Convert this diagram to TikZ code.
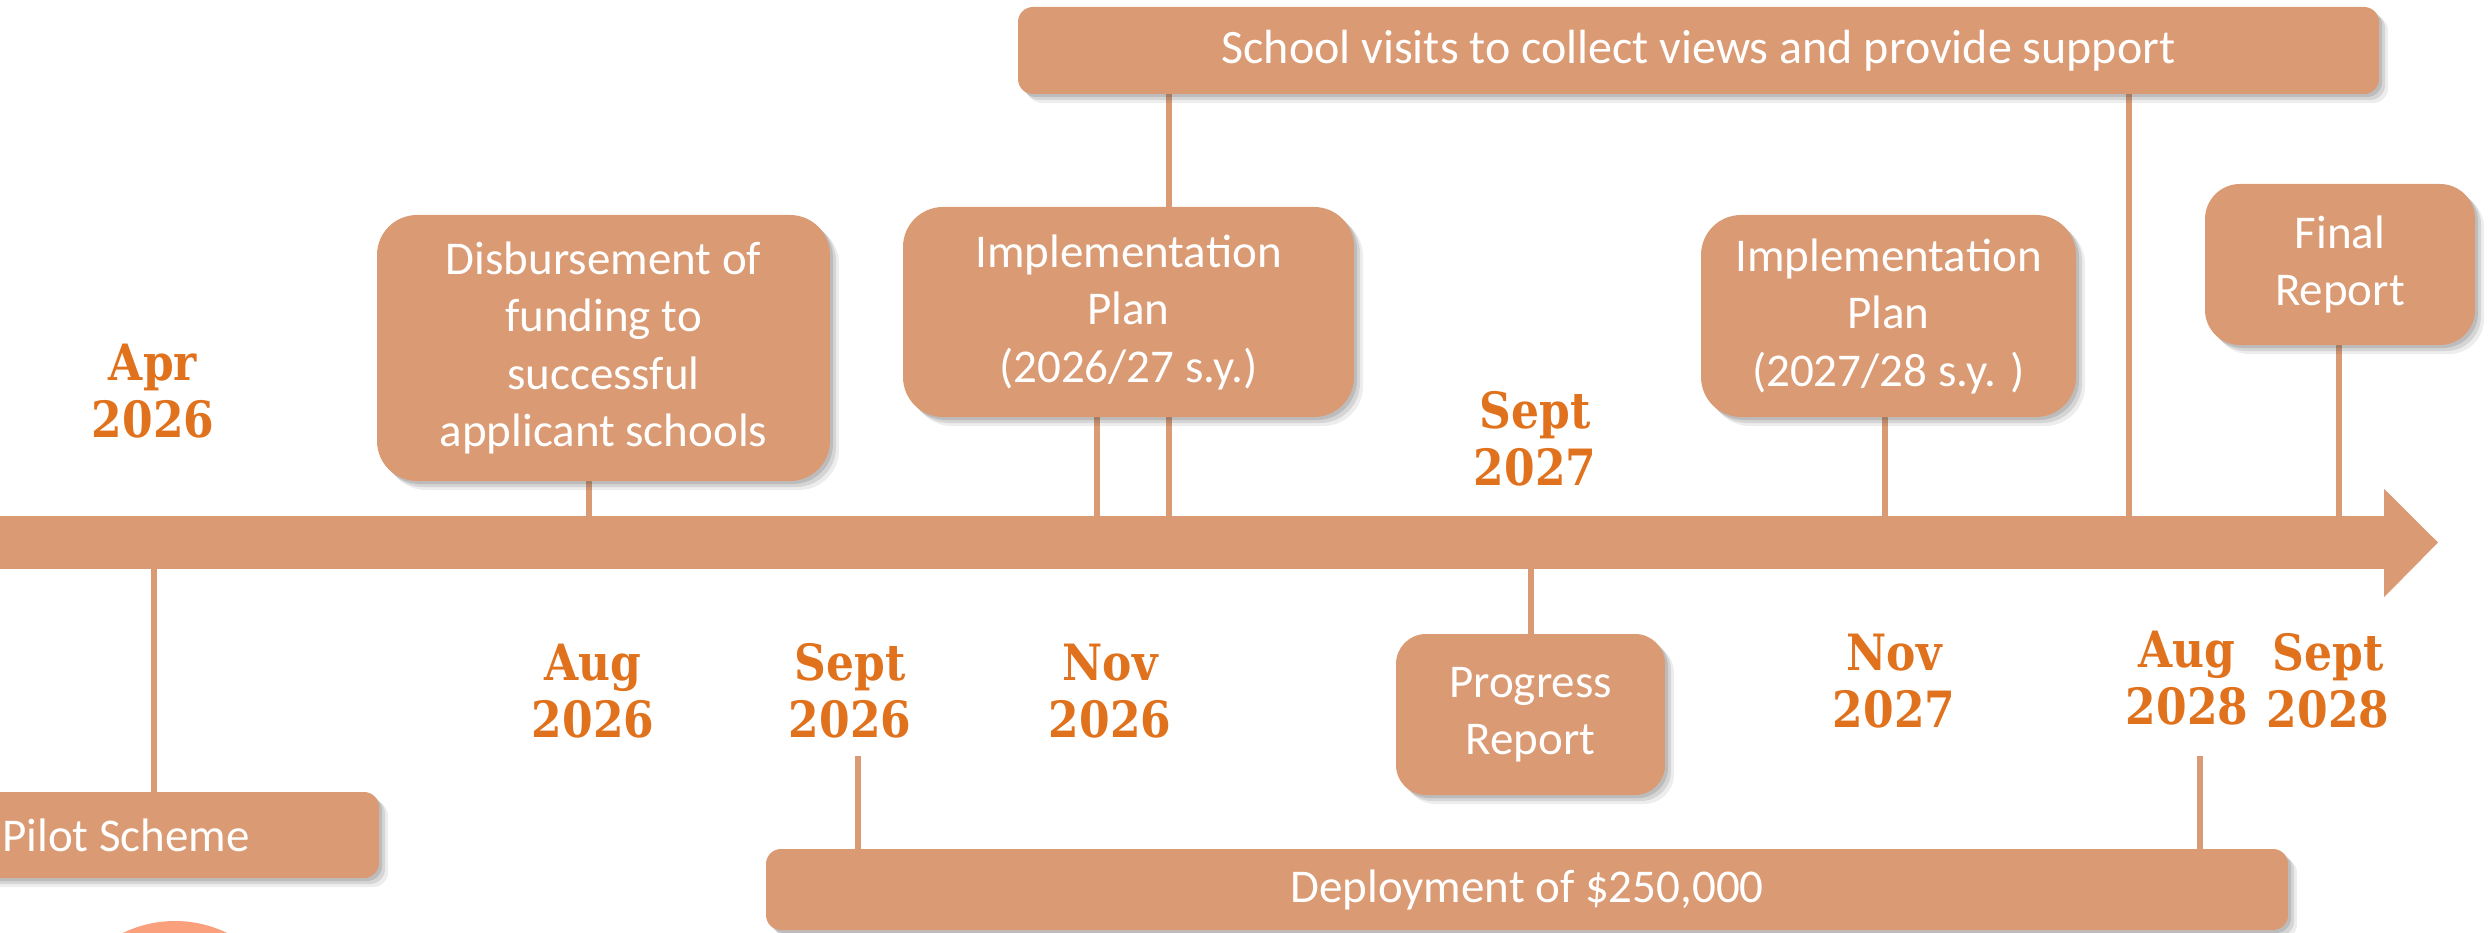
\documentclass[tikz,border=0pt]{standalone}
\usepackage{fontspec}
\setmainfont{Carlito}
\newfontfamily\datefont{DejaVu Serif}[FakeStretch=0.88]
\usepackage{xcolor}
\definecolor{colorBox}{RGB}{218,154,115}
\definecolor{colorDate}{RGB}{224,114,30}
\definecolor{colorDot}{RGB}{250,160,125}
\usetikzlibrary{shadows, positioning, calc}
\pgfdeclarelayer{background}
\pgfsetlayers{background,main}
\tikzset{
  softshadow/.style={drop shadow={shadow xshift=3pt, shadow yshift=-3pt, opacity=.18, fill=black!70},
    drop shadow={shadow xshift=6pt, shadow yshift=-6pt, opacity=.15, fill=black!70},
    drop shadow={shadow xshift=9pt, shadow yshift=-9pt, opacity=.1, fill=black!70}},
  event/.style={fill=colorBox, text=white, align=center, inner sep=0pt, softshadow, font=\fontsize{47}{57.5}\selectfont},
  date/.style={text=colorDate, align=center, inner sep=0pt, anchor=south, font=\datefont\bfseries\fontsize{50}{57}\selectfont},
  link/.style={draw=colorBox, line width=6.5pt},
}

\begin{document}
\begin{tikzpicture}[x=1pt, y=-1pt]
\useasboundingbox (0,0) rectangle (2488,933);
% time line
\node[fill=colorBox, inner sep=0pt, minimum width=2410pt, minimum height=53pt, anchor=east] (bar) at (2384,542.5) {};
\fill[colorBox] ([yshift=27pt]bar.north east) -- ([xshift=54pt]bar.east) -- ([yshift=-28pt]bar.south east) -- cycle;
\fill[colorDot] (175,1040) circle (119);

% tick positions on the time line
\coordinate (tApr26) at (154,0);
\coordinate (tAug26) at (589,0);
\coordinate (tSep26) at (858,756);
\coordinate (tNov26) at (1097,0);
\coordinate (tVisA) at (1169,0);
\coordinate (tSep27) at (1531,0);
\coordinate (tNov27) at (1885,0);
\coordinate (tVisB) at (2129,0);
\coordinate (tAug28) at (2200,756);
\coordinate (tSep28) at (2339,0);

% events
\node[event, rounded corners=15pt, minimum width=1361pt, minimum height=87pt, font=\fontsize{48}{58}\selectfont] (visits) at (1698.5,50.5) {School visits to collect views and provide support};
\node[event, rounded corners=40pt, minimum width=453pt, minimum height=266pt] (disb) at (603.5,348) {Disbursement of\\funding to\\successful\\applicant schools};
\node[event, rounded corners=40pt, minimum width=451pt, minimum height=210pt] (planA) at (1128.5,312) {Implementation\\Plan\\(2026/27 s.y.)};
\node[event, rounded corners=40pt, minimum width=375pt, minimum height=202pt] (planB) at (1888.5,316) {Implementation\\Plan\\(2027/28 s.y. )};
\node[event, rounded corners=35pt, minimum width=270pt, minimum height=161pt] (final) at (2340,264.5) {Final\\Report};
\node[event, rounded corners=30pt, minimum width=269pt, minimum height=161pt] (progress) at (1530.5,714.5) {Progress\\Report};
\node[event, rounded corners=15pt, minimum width=506pt, minimum height=86pt] (pilot) at (126,835) {Pilot Scheme};
\node[event, rounded corners=15pt, minimum width=1522pt, minimum height=81pt] (deploy) at (1527,889.5) {Deployment of \$250,000};

% dates
\node[date] (dApr26) at (153,438) {Apr\\2026};
\node[date] (dAug26) at (593,738) {Aug\\2026};
\node[date] (dSep26) at (850,738) {Sept\\2026};
\node[date] (dNov26) at (1110,738) {Nov\\2026};
\node[date] (dSep27) at (1535,486) {Sept\\2027};
\node[date] (dNov27) at (1894,728) {Nov\\2027};
\node[date] (dAug28) at (2187,725) {Aug\\2028};
\node[date] (dSep28) at (2328,728) {Sept\\2028};

% connectors
\begin{pgfonlayer}{background}
\draw[link] (tApr26 |- bar.south) -- (tApr26 |- pilot.north);
\draw[link] (tAug26 |- disb.south) -- (tAug26 |- bar.north);
\draw[link] (tNov26 |- planA.south) -- (tNov26 |- bar.north);
\draw[link] (tVisA |- visits.south) -- (tVisA |- bar.north);
\draw[link] (tSep27 |- bar.south) -- (tSep27 |- progress.north);
\draw[link] (tNov27 |- planB.south) -- (tNov27 |- bar.north);
\draw[link] (tVisB |- visits.south) -- (tVisB |- bar.north);
\draw[link] (tSep28 |- final.south) -- (tSep28 |- bar.north);
\draw[link] (tSep26) -- (tSep26 |- deploy.north);
\draw[link] (tAug28) -- (tAug28 |- deploy.north);
\end{pgfonlayer}
\end{tikzpicture}
\end{document}
